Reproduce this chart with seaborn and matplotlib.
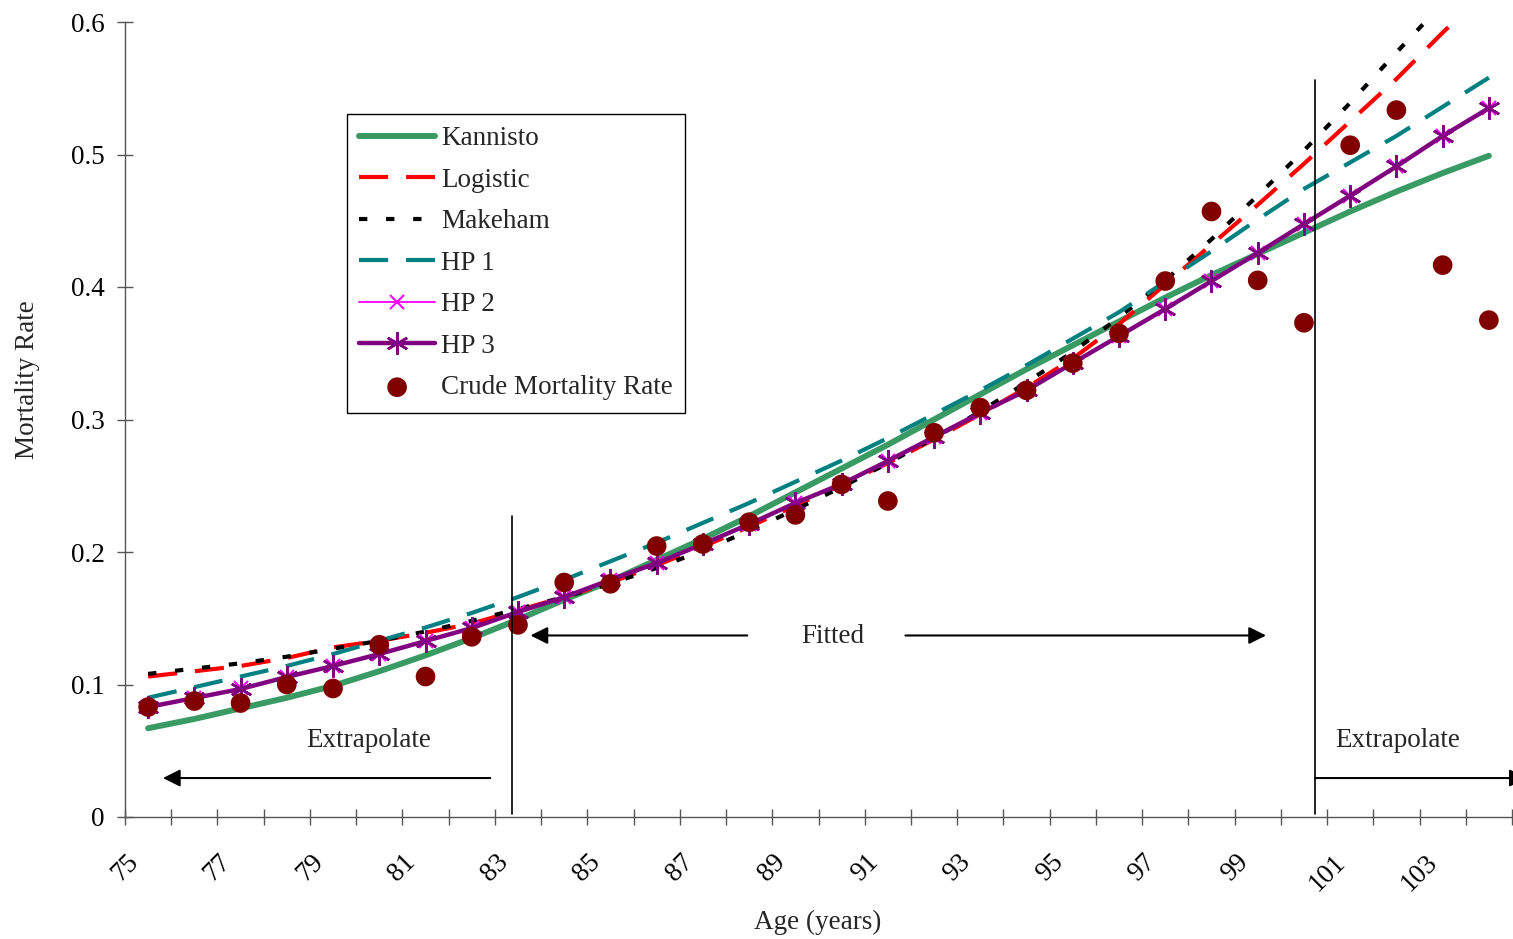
import matplotlib
matplotlib.use("Agg")
import matplotlib.pyplot as plt
import seaborn as sns
from matplotlib.ticker import FixedLocator, FuncFormatter

# Single-year ages (mid-points) 75.5 ... 104.5
ages = [75.5, 76.5, 77.5, 78.5, 79.5, 80.5, 81.5, 82.5, 83.5, 84.5,
        85.5, 86.5, 87.5, 88.5, 89.5, 90.5, 91.5, 92.5, 93.5, 94.5,
        95.5, 96.5, 97.5, 98.5, 99.5, 100.5, 101.5, 102.5, 103.5, 104.5]

crude = [0.083, 0.0875, 0.086, 0.100, 0.097, 0.130, 0.106, 0.136, 0.145, 0.177,
         0.176, 0.2045, 0.206, 0.2225, 0.228, 0.251, 0.2385, 0.290, 0.309, 0.322,
         0.3425, 0.365, 0.4045, 0.457, 0.405, 0.373, 0.507, 0.5335, 0.4165, 0.375]

kannisto = [0.067, 0.074, 0.082, 0.090, 0.099, 0.110, 0.122, 0.135, 0.149, 0.164,
            0.178, 0.194, 0.210, 0.227, 0.245, 0.263, 0.281, 0.300, 0.319, 0.338,
            0.356, 0.374, 0.392, 0.409, 0.425, 0.441, 0.457, 0.472, 0.486, 0.499]

logistic = [0.106, 0.110, 0.114, 0.120, 0.128, 0.133, 0.139, 0.146, 0.156, 0.166,
            0.177, 0.190, 0.204, 0.219, 0.235, 0.251, 0.267, 0.285, 0.304, 0.324,
            0.346, 0.372, 0.402, 0.432, 0.462, 0.493, 0.525, 0.557, 0.592, 0.625]

makeham = [0.108, 0.112, 0.116, 0.121, 0.127, 0.133, 0.140, 0.148, 0.157, 0.166,
           0.176, 0.188, 0.201, 0.216, 0.232, 0.249, 0.267, 0.286, 0.306, 0.328,
           0.351, 0.377, 0.405, 0.436, 0.469, 0.503, 0.539, 0.577, 0.614, 0.655]

hp1 = [0.090, 0.098, 0.106, 0.114, 0.123, 0.133, 0.143, 0.154, 0.166, 0.179,
       0.193, 0.207, 0.222, 0.237, 0.253, 0.269, 0.286, 0.304, 0.322, 0.341,
       0.361, 0.381, 0.404, 0.427, 0.451, 0.474, 0.494, 0.514, 0.536, 0.558]

hp2 = [0.083, 0.090, 0.097, 0.1055, 0.114, 0.123, 0.133, 0.1425, 0.1545, 0.166,
       0.179, 0.1915, 0.206, 0.221, 0.237, 0.2515, 0.2685, 0.287, 0.305, 0.322,
       0.3425, 0.363, 0.3835, 0.4045, 0.4255, 0.4475, 0.469, 0.491, 0.514, 0.535]

hp3 = [0.083, 0.0898, 0.0966, 0.1057, 0.114, 0.123, 0.1328, 0.1426, 0.1547, 0.166,
       0.179, 0.1917, 0.206, 0.221, 0.237, 0.2513, 0.2687, 0.2868, 0.305, 0.322,
       0.3426, 0.363, 0.3834, 0.4045, 0.4257, 0.4475, 0.469, 0.491, 0.514, 0.535]

x_tick_positions = list(range(75, 106))
x_tick_labels = ["75", "77", "79", "81", "83", "85", "87", "89", "91", "93",
                 "95", "97", "99", "101", "103"]
y_ticks = [0, 0.1, 0.2, 0.3, 0.4, 0.5, 0.6]

# Fitting window boundaries (ages)
fit_start, fit_end = 83.38, 100.74

FS = 19.5

sns.set_style("white")
plt.rcParams["font.family"] = ["Liberation Serif", "DejaVu Serif"]

fig = plt.figure(figsize=(15.13, 9.39), dpi=100)
ax = fig.add_axes([125 / 1513, 122 / 939, (1512 - 125) / 1513, (817 - 22) / 939])

sns.lineplot(x=ages, y=kannisto, ax=ax, color="#3a9a64", linewidth=4.3,
             solid_capstyle="round", label="Kannisto")
sns.lineplot(x=ages, y=logistic, ax=ax, color="#ff0000", linewidth=3.0,
             label="Logistic")
ax.lines[-1].set_dashes((7, 4.3))
ax.lines[-1].set_dash_capstyle("butt")
sns.lineplot(x=ages, y=makeham, ax=ax, color="#000000", linewidth=3.0,
             label="Makeham")
ax.lines[-1].set_dashes((2, 4.5))
ax.lines[-1].set_dash_capstyle("butt")
sns.lineplot(x=ages, y=hp1, ax=ax, color="#008080", linewidth=3.0,
             label="HP 1")
ax.lines[-1].set_dashes((7, 4.3))
ax.lines[-1].set_dash_capstyle("butt")
sns.lineplot(x=ages, y=hp2, ax=ax, color="#ff00ff", linewidth=1.3,
             marker="x", markersize=10, markeredgecolor="#ff00ff",
             markeredgewidth=1.5, label="HP 2")
sns.lineplot(x=ages, y=hp3, ax=ax, color="#800080", linewidth=3.2,
             marker=(6, 2, 0), markersize=16, markeredgecolor="#800080",
             markerfacecolor="#800080", markeredgewidth=1.8,
             solid_capstyle="round", label="HP 3")
sns.scatterplot(x=ages, y=crude, ax=ax, color="#800000", s=200,
                edgecolor="none", zorder=5, label="Crude Mortality Rate")

# Axes, ticks and limits
ax.set_xlim(75, 105)
ax.set_ylim(0, 0.6)
for side in ("top", "right"):
    ax.spines[side].set_visible(False)
for side in ("left", "bottom"):
    ax.spines[side].set_color("#555555")
    ax.spines[side].set_linewidth(1.0)

ax.xaxis.set_major_locator(FixedLocator(x_tick_positions))
label_map = {int(t): t for t in x_tick_labels}
ax.set_xticklabels([label_map.get(v, "") for v in x_tick_positions],
                   rotation=45, ha="center", va="top")
ax.set_yticks(y_ticks)
ax.yaxis.set_major_formatter(FuncFormatter(lambda v, p: "0" if v == 0 else f"{v:.1f}"))
ax.tick_params(axis="x", bottom=True, direction="inout", length=11, width=1.0,
               color="#555555", pad=18, labelsize=FS, labelcolor="black")
ax.tick_params(axis="y", left=True, direction="inout", length=11, width=1.0,
               color="#555555", pad=9, labelsize=FS, labelcolor="black")
ax.set_xlabel("")
ax.set_ylabel("")

fig.text(818 / 1513, 1 - 922 / 939, "Age (years)", ha="center", va="center",
         fontsize=FS)
fig.text(28 / 1513, 1 - 380 / 939, "Mortality Rate", ha="center", va="center",
         rotation=90, fontsize=FS)

# Fitting window markers
ax.plot([fit_start, fit_start], [0.002, 0.227], color="black", lw=1.2, zorder=6)
ax.plot([fit_end, fit_end], [0.002, 0.556], color="black", lw=1.2, zorder=6)

arrow = dict(arrowstyle="-|>", color="black", lw=1.5, mutation_scale=26,
             shrinkA=0, shrinkB=0)
ax.annotate("", xy=(75.82, 0.0294), xytext=(82.9, 0.0294), arrowprops=arrow)
ax.annotate("", xy=(83.77, 0.137), xytext=(88.46, 0.137), arrowprops=arrow)
ax.annotate("", xy=(99.68, 0.137), xytext=(91.88, 0.137), arrowprops=arrow)
ax.annotate("", xy=(105.32, 0.0294), xytext=(fit_end, 0.0294), arrowprops=arrow,
            annotation_clip=False)

ax.text(80.28, 0.058, "Extrapolate", ha="center", va="center", fontsize=FS)
ax.text(90.32, 0.136, "Fitted", ha="center", va="center", fontsize=FS)
ax.text(102.53, 0.058, "Extrapolate", ha="center", va="center", fontsize=FS)

leg = ax.legend(loc="upper left", bbox_to_anchor=(347 / 1513, 1 - 114 / 939),
                bbox_transform=fig.transFigure, borderaxespad=0, fontsize=FS,
                frameon=True, fancybox=False, framealpha=1, edgecolor="black",
                handlelength=2.8, handletextpad=0.22, labelspacing=0.61,
                borderpad=0.45, markerscale=1.0)
leg.get_frame().set_linewidth(1.0)

fig.savefig("out.png", dpi=100)
